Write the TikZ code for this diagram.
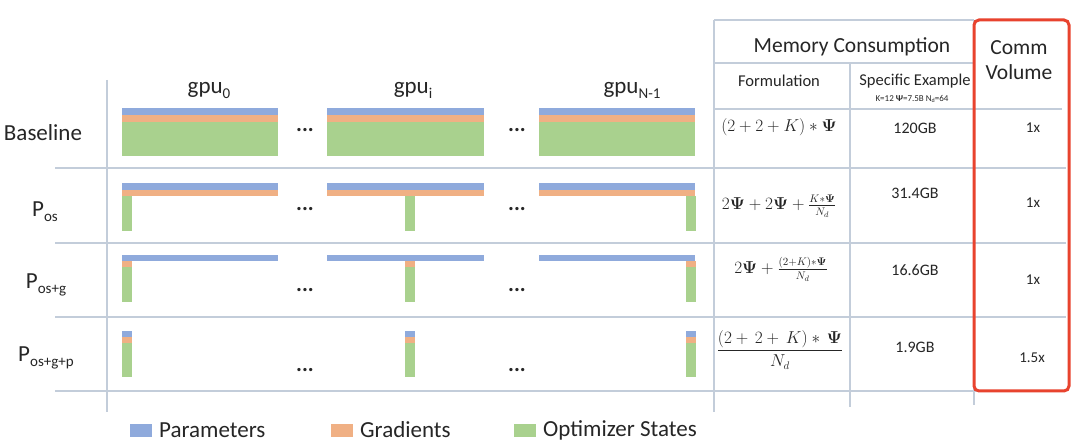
\documentclass[tikz,border=0pt]{standalone}
\usepackage{amsmath}
\usepackage[no-math]{fontspec}
\setmainfont{Carlito}
\definecolor{gridc}{HTML}{C3CDDA}
\definecolor{parc}{HTML}{8FAADC}
\definecolor{gradc}{HTML}{F0B084}
\definecolor{optc}{HTML}{A9D18E}
\definecolor{redc}{HTML}{E8432E}
\definecolor{txtc}{HTML}{262626}
\newcommand{\lowsub}[1]{\raisebox{-0.45ex}{\fontsize{15}{15}\selectfont #1}}
\tikzset{
  grid/.style={draw=gridc, line width=1.3pt},
  lab/.style={text=txtc, inner sep=0pt, font=\fontsize{23}{26}\selectfont},
  head/.style={text=txtc, inner sep=0pt, font=\fontsize{21.5}{24}\selectfont},
  sub/.style={text=txtc, inner sep=0pt, font=\fontsize{16.5}{19}\selectfont},
  val/.style={text=txtc, inner sep=0pt, font=\fontsize{16}{18}\selectfont},
  frm/.style={text=txtc, inner sep=0pt, font=\fontsize{16}{18}\selectfont},
  dots/.style={text=txtc, inner sep=0pt, font=\fontsize{22}{22}\selectfont\bfseries},
  par/.style={fill=parc},
  grd/.style={fill=gradc},
  opt/.style={fill=optc},
}
\begin{document}
\begin{tikzpicture}[x=1pt,y=-1pt]
\useasboundingbox[fill=white] (0,0) rectangle (1080,446);
% grid lines
\foreach \yy in {168,243,317,391} \draw[grid] (55,\yy) -- (1066,\yy);
\draw[grid] (107,80) -- (107,412);
\draw[grid] (714,20) -- (714,412);
\draw[grid] (850,64) -- (850,407);
\draw[grid] (974,20) -- (974,405);
\draw[grid] (714,20) -- (974,20);
\draw[grid] (714,63) -- (974,63);
\draw[grid] (714,109) -- (1062,109);
% headers
\node[head] (mem) at (852,47) {Memory Consumption};
\node[head, align=center, font=\fontsize{21.5}{25}\selectfont] (comm) at (1019,60) {Comm\\Volume};
\node[sub] (form) at (779,81) {Formulation};
\node[sub] (spec) at (915,81) {Specific Example};
\node[text=txtc, inner sep=0pt, font=\fontsize{9}{10}\selectfont] (kval) at (912,99) {K=12 {\bfseries Ψ}=7.5B N\raisebox{-0.3ex}{\fontsize{6}{6}\selectfont d}=64};
% gpu headers
\node[lab] (g0) at (209,90) {gpu\lowsub{0}};
\node[lab] (gi) at (413,90) {gpu\lowsub{i}};
\node[lab] (gn) at (632,90) {gpu\lowsub{N-1}};
% row labels
\node[lab] (base) at (43,133) {Baseline};
\node[lab] (pos) at (45,212) {P\lowsub{os}};
\node[lab] (posg) at (46,285) {P\lowsub{os+g}};
\node[lab] (posgp) at (46,358) {P\lowsub{os+g+p}};
% baseline bars
\foreach \xa/\xb in {122/278, 327/484, 539/695} {
  \fill[par] (\xa,108) rectangle (\xb,115);
  \fill[grd] (\xa,115) rectangle (\xb,122);
  \fill[opt] (\xa,122) rectangle (\xb,156);
}
% P_os
\foreach \xa/\xb/\ca in {122/278/122, 327/484/405, 539/695/686} {
  \fill[par] (\xa,183) rectangle (\xb,190);
  \fill[grd] (\xa,190) rectangle (\xb,196);
  \fill[opt] (\ca,196) rectangle ++(9.5,35);
}
% P_os+g
\foreach \xa/\xb/\ca in {122/278/122, 327/484/405, 539/695/686} {
  \fill[par] (\xa,255) rectangle (\xb,261);
  \fill[grd] (\ca,261) rectangle ++(9.5,6);
  \fill[opt] (\ca,267) rectangle ++(9.5,35);
}
% P_os+g+p
\foreach \ca in {122,405,686} {
  \fill[par] (\ca,331) rectangle ++(9.5,6);
  \fill[grd] (\ca,337) rectangle ++(9.5,6);
  \fill[opt] (\ca,343) rectangle ++(9.5,34);
}
% dots
\node[dots] (d1) at (305,130) {...};
\node[dots] (d2) at (517,130) {...};
\node[dots] (d3) at (305,209) {...};
\node[dots] (d4) at (517,209) {...};
\node[dots] (d5) at (305,290) {...};
\node[dots] (d6) at (517,290) {...};
\node[dots] (d7) at (305,370) {...};
\node[dots] (d8) at (517,370) {...};
% formulas
\node[frm] (f1) at (779,127) {$(2+2+K)\ast\mathbf{\Psi}$};
\node[frm] (f2) at (779,206) {$2\mathbf{\Psi}+2\mathbf{\Psi}+\frac{K\ast\mathbf{\Psi}}{N_d}$};
\node[frm] (f3) at (781,269) {$2\mathbf{\Psi}+\frac{(2+K)\ast\mathbf{\Psi}}{N_d}$};
\node[frm] (f4) at (780,350) {$\dfrac{(2+\,2+\,K)\ast\,\mathbf{\Psi}}{N_d}$};
% values
\node[val] (v1) at (915,128) {120GB};
\node[val] (v2) at (915,193) {31.4GB};
\node[val] (v3) at (915,270) {16.6GB};
\node[val] (v4) at (915,347) {1.9GB};
\node[val, font=\fontsize{15}{17}\selectfont] (c1) at (1033,128) {1x};
\node[val, font=\fontsize{15}{17}\selectfont] (c2) at (1033,203) {1x};
\node[val, font=\fontsize{15}{17}\selectfont] (c3) at (1033,280) {1x};
\node[val, font=\fontsize{15}{17}\selectfont] (c4) at (1032,358) {1.5x};
% red box
\draw[redc, line width=3pt, rounded corners=5pt] (974,20) rectangle (1069,391);
% legend
\fill[par] (130,424) rectangle (152,437);
\node[lab, anchor=west] (lp) at (159,430) {Parameters};
\fill[grd] (331,424) rectangle (353,437);
\node[lab, anchor=west] (lg) at (360,430) {Gradients};
\fill[opt] (514,424) rectangle (536,437);
\node[lab, anchor=west] (lo) at (543,430) {Optimizer States};
\end{tikzpicture}
\end{document}
